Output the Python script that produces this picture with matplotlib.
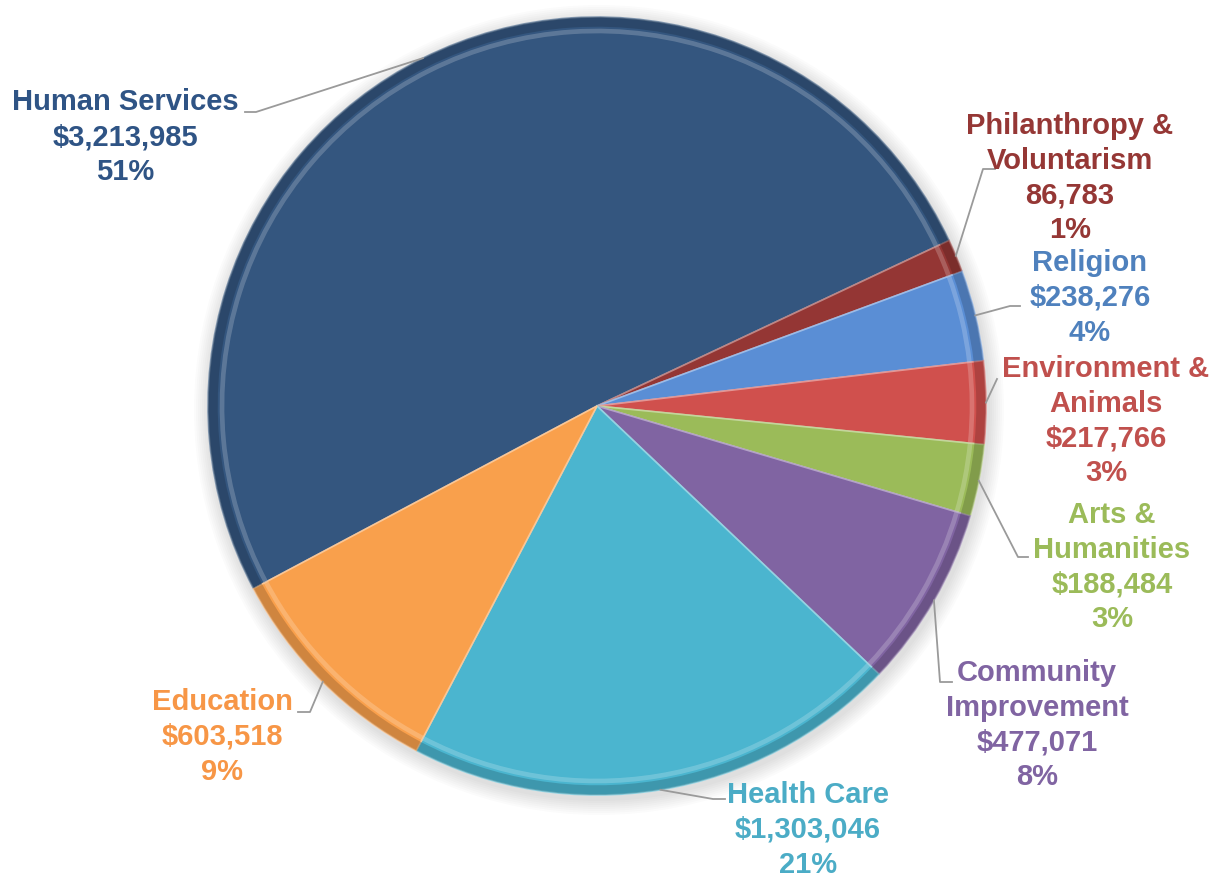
import matplotlib
matplotlib.use("Agg")
import numpy as np
from matplotlib import pyplot as plt
from matplotlib.colors import to_rgb

# kategori adlari ve tutarlar
categories = ['Human Services', 'Philanthropy &\nVoluntarism', 'Religion',
              'Environment &\nAnimals', 'Arts &\nHumanities',
              'Community\nImprovement', 'Health Care', 'Education']
values = [3213985, 86783, 238276, 217766, 188484, 477071, 1303046, 603518]
dollar = ['$', '', '$', '$', '$', '$', '$', '$']
percents = ['51%', '1%', '4%', '3%', '3%', '8%', '21%', '9%']

slice_colors = ['#34567F', '#943634', '#5A8ED5', '#D0504D',
                '#9BBB59', '#8064A2', '#4BB5CF', '#F9A04C']
text_colors = ['#2F5485', '#953735', '#4F81BD', '#C0504D',
               '#9BBB59', '#8064A2', '#4BACC6', '#F79646']

W, H = 1220, 878
cx, cy, R = 597, 407, 389          # piksel koordinatlari (y asagi)

# etiket merkezleri ve kirik cizgi noktalari (piksel)
label_pos = [(125, 137), (1070, 178), (1090, 298), (1106, 421),
             (1112, 567), (1037, 725), (808, 830), (222, 737)]
elbows = [[(245, 113), (256, 113)],
          [(995, 170), (983, 170)],
          [(1020, 307), (1010, 307)],
          [(997, 380), (997, 380)],
          [(1028, 558), (1018, 558)],
          [(952, 683), (940, 683)],
          [(725, 800), (713, 800)],
          [(298, 713), (310, 713)]]

plt.rcParams['font.family'] = ['Liberation Sans', 'DejaVu Sans']

fig = plt.figure(figsize=(W / 100, H / 100), dpi=100)
ax = fig.add_axes([0, 0, 1, 1])

center = (cx, H - cy)

# hafif golge
for k in range(8):
    ax.add_patch(plt.Circle((center[0] + 2, center[1] - 4), R + 2 + k * 2,
                            color='#000000', alpha=0.015, lw=0, zorder=0))

edge_cols = [tuple(min(1, c * 0.6 + 0.4) for c in to_rgb(col)) for col in slice_colors]
wedges, _ = ax.pie(values, colors=slice_colors, startangle=208, counterclock=False,
                   center=center, radius=R, frame=True,
                   wedgeprops=dict(linewidth=0))
for w, ec in zip(wedges, edge_cols):
    w.set_edgecolor(ec)
    w.set_linewidth(1.2)
    w.set_zorder(2)

# kenar golgelendirme (bevel etkisi)
dark = [tuple(c * 0.7 for c in to_rgb(col)) for col in slice_colors]
ring, _ = ax.pie(values, colors=dark, startangle=208, counterclock=False,
                 center=center, radius=R, frame=True,
                 wedgeprops=dict(width=R * 0.025, linewidth=0, alpha=0.55))
for w in ring:
    w.set_zorder(3)
light = [tuple(min(1, c * 0.5 + 0.5) for c in to_rgb(col)) for col in slice_colors]
ring2, _ = ax.pie(values, colors=light, startangle=208, counterclock=False,
                  center=center, radius=R * 0.97, frame=True,
                  wedgeprops=dict(width=R * 0.012, linewidth=0, alpha=0.4))
for w in ring2:
    w.set_zorder(3)

ax.set_xlim(0, W)
ax.set_ylim(0, H)
ax.set_aspect('equal')
ax.axis('off')

# etiketler ve kilavuz cizgiler
for i, w in enumerate(wedges):
    mid = np.deg2rad((w.theta1 + w.theta2) / 2)
    ex = center[0] + R * np.cos(mid)
    ey = center[1] + R * np.sin(mid)
    pts = [(x, H - y) for x, y in elbows[i]] + [(ex, ey)]
    ax.plot([p[0] for p in pts], [p[1] for p in pts], color='#9A9A9A',
            lw=1.3, zorder=4)
    txt = '%s\n%s%s\n%s' % (categories[i], dollar[i], format(values[i], ','), percents[i])
    lx, ly = label_pos[i]
    ax.text(lx, H - ly, txt, ha='center', va='center', fontsize=21,
            fontweight='bold', color=text_colors[i], linespacing=1.3, zorder=5)

plt.savefig('out.png', dpi=100)
